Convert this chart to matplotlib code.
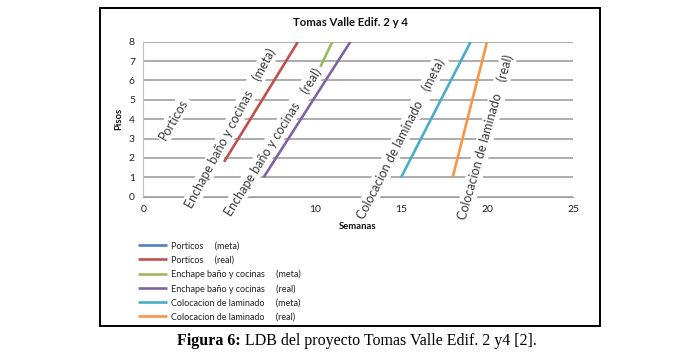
import matplotlib
matplotlib.use("Agg")
import matplotlib.pyplot as plt
from matplotlib.patches import Rectangle

# ---- data ----
series_names = ["Porticos", "Porticos", "Enchape baño y cocinas", "Enchape baño y cocinas",
                "Colocacion de laminado", "Colocacion de laminado"]
series_kind = ["(meta)", "(real)", "(meta)", "(real)", "(meta)", "(real)"]
series_colors = ["#4F81BD", "#C0504D", "#9BBB59", "#8064A2", "#4BACC6", "#F79646"]
weeks_porticos_meta = []
floors_porticos_meta = []
weeks_porticos_real = [4.7, 9.0]
floors_porticos_real = [1.8, 8]
weeks_enchape_meta = [10.3, 11.0]
floors_enchape_meta = [6.7, 8]
weeks_enchape_real = [7.0, 12.05]
floors_enchape_real = [1, 8]
weeks_lamin_meta = [15.0, 19.05]
floors_lamin_meta = [1, 8]
weeks_lamin_real = [18.0, 20.0]
floors_lamin_real = [1, 8]

series_x = [weeks_porticos_meta, weeks_porticos_real, weeks_enchape_meta,
            weeks_enchape_real, weeks_lamin_meta, weeks_lamin_real]
series_y = [floors_porticos_meta, floors_porticos_real, floors_enchape_meta,
            floors_enchape_real, floors_lamin_meta, floors_lamin_real]

x_ticks = [0, 5, 10, 15, 20, 25]
x_tick_labels = ["0", "", "10", "15", "20", "25"]
y_ticks = [0, 1, 2, 3, 4, 5, 6, 7, 8]

# annotation labels: text, x, y, rotation
ann_text = ["Porticos", "Enchape baño y cocinas    (meta)", "Enchape baño y cocinas    (real)",
            "Colocacion de laminado    (meta)", "Colocacion de laminado    (real)"]
ann_x = [1.75, 5.06, 7.53, 14.97, 19.92]
ann_y = [4.0, 3.53, 2.84, 3.0, 3.09]
ann_rot = [60, 62, 58, 63, 74]

title = "Tomas Valle Edif. 2 y 4"
xlabel = "Semanas"
ylabel = "Pisos"
caption_bold = "Figura 6:"
caption_rest = " LDB del proyecto Tomas Valle Edif. 2 y4 [2]."

# ---- figure ----
plt.rcParams['font.family'] = ['Lato', 'DejaVu Sans']
fig = plt.figure(figsize=(6.89, 3.59), dpi=100)
W, H = 689, 359
ax = fig.add_axes([143.3 / W, 1 - 196.7 / H, (573 - 143.3) / W, (196.7 - 41.7) / H])

for xs, ys, c, n, k in zip(series_x, series_y, series_colors, series_names, series_kind):
    ax.plot(xs, ys, color=c, lw=1.9, solid_capstyle='butt',
            label=f"{n}     {k}")

ax.set_xlim(0, 25)
ax.set_ylim(0, 8)
ax.set_xticks(x_ticks)
ax.set_xticklabels(x_tick_labels)
ax.set_yticks(y_ticks)
ax.yaxis.grid(True, color="#a0a0a0", lw=1.2)
ax.set_axisbelow(True)
for s in ["top", "right"]:
    ax.spines[s].set_visible(False)
ax.spines["left"].set_color("#bfbfbf")
ax.spines["bottom"].set_color("#a0a0a0")
ax.tick_params(length=0, labelsize=7.5, colors="#222222", pad=6)

for t, x, y, r in zip(ann_text, ann_x, ann_y, ann_rot):
    ax.text(x, y, t, rotation=r, rotation_mode='anchor', ha='center', va='center',
            fontsize=9, color="#3a3a3a", zorder=5,
            bbox=dict(facecolor='white', edgecolor='none', pad=1.5))

fig.text(350 / W, 1 - 22.5 / H, title, ha='center', va='center', fontsize=8.2,
         fontweight='bold', color="#111111")
fig.text(358 / W, 1 - 226 / H, xlabel, ha='center', va='center', fontsize=6.8,
         fontweight='bold', color="#111111")
fig.text(119 / W, 1 - 119 / H, ylabel, ha='center', va='center', fontsize=6.8,
         fontweight='bold', color="#111111", rotation=90)

leg = fig.legend(loc='upper left', bbox_to_anchor=(134 / W, 1 - 238 / H), frameon=False,
                 fontsize=6.5, handlelength=3.2, handletextpad=0.5, labelspacing=0.55,
                 borderaxespad=0)
for t in leg.get_texts():
    t.set_color("#222222")

# border box
fig.patches.append(Rectangle((99.5 / W, 1 - 326 / H), (599.5 - 99.5) / W, (326 - 7.5) / H,
                             transform=fig.transFigure, fill=False, edgecolor='black', lw=1.4))

# caption
cap1 = fig.text(177 / W, 1 - 341 / H, caption_bold, ha='left', va='center',
                fontsize=11.5, fontweight='bold', family='Liberation Serif')
fig.canvas.draw()
bb = cap1.get_window_extent()
fig.text(bb.x1 / W, 1 - 341 / H, caption_rest, ha='left', va='center',
         fontsize=11.5, family='Liberation Serif')

fig.savefig("out.png", dpi=100)
